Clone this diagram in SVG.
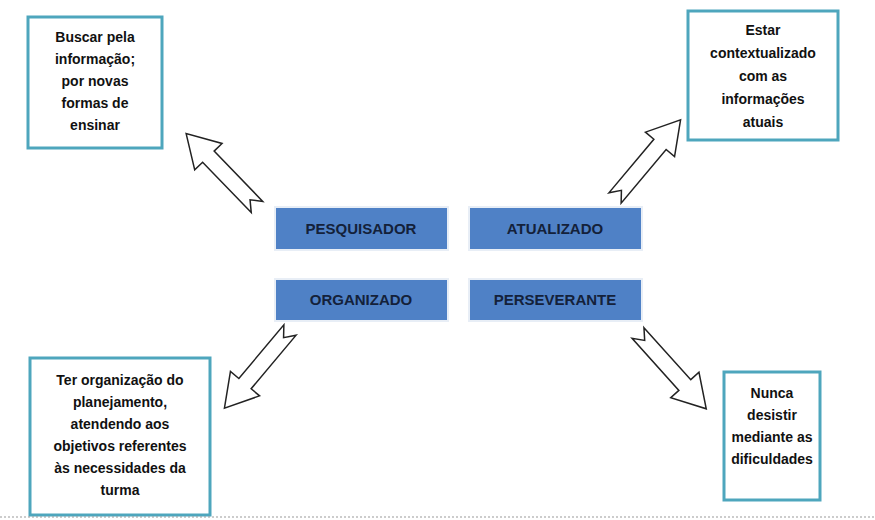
<svg xmlns="http://www.w3.org/2000/svg" width="875" height="520" viewBox="0 0 875 520">
<style>
.box{fill:#fff;stroke:#4ea6bd;stroke-width:3}
.role{fill:#4f81c6;stroke:#e8eef6;stroke-width:2}
.t{font-family:"Liberation Sans",Arial,sans-serif;font-weight:bold;font-size:14px;fill:#111;text-anchor:middle}
.r{font-family:"Liberation Sans",Arial,sans-serif;font-weight:bold;font-size:15px;fill:#14213a;text-anchor:middle}
.arr{fill:#fff;stroke:#222;stroke-width:1.5}
</style>
<defs>
<polygon id="ar" class="arr" points="0,-8 70,-8 70,-19 102,0 70,19 70,8 0,8 10,0"/>
</defs>
<rect width="875" height="520" fill="#fff"/>
<g id="connectors">
<use href="#ar" transform="translate(257,207) rotate(-134)"/>
<use href="#ar" transform="translate(615,198) rotate(-50)"/>
<use href="#ar" transform="translate(290,330) rotate(130)"/>
<use href="#ar" transform="translate(638,333) rotate(48)"/>
</g>
<g id="pesquisador"><rect class="role" x="275" y="207" width="173" height="43"/><text class="r" x="361" y="234">PESQUISADOR</text></g>
<g id="atualizado"><rect class="role" x="469" y="207" width="173" height="43"/><text class="r" x="555" y="234">ATUALIZADO</text></g>
<g id="organizado"><rect class="role" x="275" y="279" width="173" height="42"/><text class="r" x="361" y="305">ORGANIZADO</text></g>
<g id="perseverante"><rect class="role" x="469" y="279" width="173" height="42"/><text class="r" x="555" y="305">PERSEVERANTE</text></g>
<g id="buscar"><rect class="box" x="28" y="17" width="134" height="131"/>
<text class="t" x="95" y="42">Buscar pela</text><text class="t" x="95" y="64">informação;</text><text class="t" x="95" y="86">por novas</text><text class="t" x="95" y="108">formas de</text><text class="t" x="95" y="130">ensinar</text></g>
<g id="estar"><rect class="box" x="688" y="11" width="150" height="129"/>
<text class="t" x="763" y="35">Estar</text><text class="t" x="763" y="58">contextualizado</text><text class="t" x="763" y="81">com as</text><text class="t" x="763" y="104">informações</text><text class="t" x="763" y="127">atuais</text></g>
<g id="ter"><rect class="box" x="30" y="358" width="180" height="157"/>
<text class="t" x="120" y="385">Ter organização do</text><text class="t" x="120" y="407">planejamento,</text><text class="t" x="120" y="429">atendendo aos</text><text class="t" x="120" y="451">objetivos referentes</text><text class="t" x="120" y="473">às necessidades da</text><text class="t" x="120" y="495">turma</text></g>
<g id="nunca"><rect class="box" x="724" y="372" width="96" height="128"/>
<text class="t" x="772" y="398">Nunca</text><text class="t" x="772" y="420">desistir</text><text class="t" x="772" y="442">mediante as</text><text class="t" x="772" y="464">dificuldades</text></g>
<line x1="0" y1="517" x2="875" y2="517" stroke="#999" stroke-width="1" stroke-dasharray="2,2"/>
</svg>
